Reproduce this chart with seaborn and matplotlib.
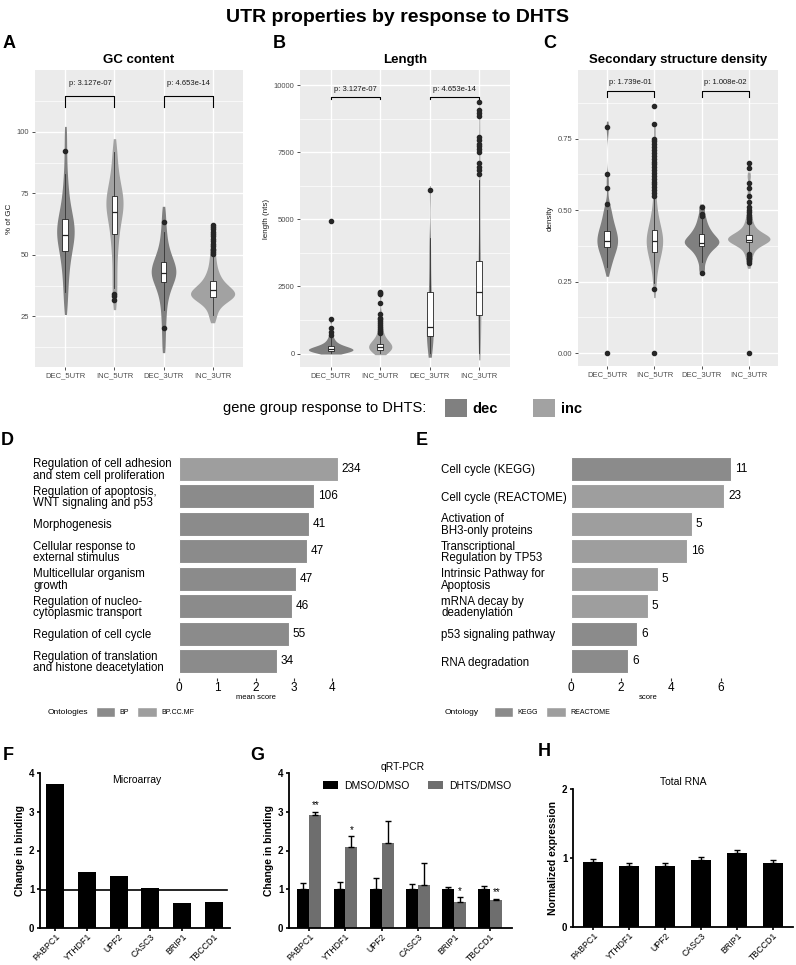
import numpy as np
import pandas as pd
import matplotlib
matplotlib.use("Agg")
import matplotlib.pyplot as plt
import seaborn as sns
from matplotlib.patches import Patch

plt.rcParams["font.family"] = ["Liberation Sans", "DejaVu Sans"]

# ---------------- data: UTR properties (A-C) ----------------
utr_groups = ["DEC_5UTR", "INC_5UTR", "DEC_3UTR", "INC_3UTR"]
utr_response = ["dec", "inc", "dec", "inc"]
response_colors = {"dec": "#808080", "inc": "#a2a2a2"}

# values (shape of each distribution)
gc_dec5 = [28, 33, 37, 40.5, 43.5, 46, 48, 50, 51.5, 53, 54.5, 55.5, 56.5, 57.5, 58.5, 59.5, 60.5, 61.5, 62.5,
           63.5, 64.5, 66, 67.5, 69, 71, 73.5, 76.5, 80, 85, 92, 100]
gc_inc5 = [30, 34, 38, 42, 46, 50, 53, 55.5, 58, 60, 62, 63.5, 65, 66.5, 67.5, 68.5, 69.5, 70.5, 71.5, 72.5,
           73.5, 74.5, 75.5, 77, 78.5, 80, 82, 84.5, 87.5, 91, 95]
gc_dec3 = [12, 18, 23, 27, 30.5, 33, 35, 36.5, 38, 39, 40, 40.8, 41.5, 42.2, 42.9, 43.6, 44.3, 45, 45.8, 46.7,
           47.7, 48.8, 50, 51.5, 53.5, 56, 59, 63, 68]
gc_inc3 = [23.5, 26, 28, 29.5, 30.5, 31.2, 31.8, 32.3, 32.7, 33.1, 33.4, 33.7, 34, 34.3, 34.6, 35, 35.4, 35.8,
           36.3, 36.8, 37.4, 38, 38.8, 39.7, 40.8, 42, 43.5, 45.5, 48, 51, 55, 60]

len_dec5 = [10, 30, 50, 70, 85, 100, 115, 130, 145, 160, 170, 180, 195, 215, 240, 270, 300, 340, 400, 480, 600, 800, 1300]
len_inc5 = [10, 40, 80, 120, 150, 180, 210, 240, 260, 285, 310, 340, 370, 410, 460, 520, 600, 700, 850, 1000, 1200, 1500, 2250]
len_dec3 = [20, 150, 300, 450, 600, 700, 800, 900, 1000, 1100, 1250, 1450, 1700, 2000, 2300, 2700, 3200, 3800, 4300, 6100]
len_inc3 = [20, 300, 700, 1000, 1300, 1500, 1800, 2100, 2300, 2500, 2800, 3100, 3400, 3800, 4300, 5000, 5800, 6500, 7200, 8000, 9000]

ss_dec5 = [0.29, 0.31, 0.325, 0.338, 0.348, 0.357, 0.365, 0.372, 0.378, 0.384, 0.39, 0.396, 0.402, 0.408, 0.415,
           0.422, 0.43, 0.438, 0.447, 0.457, 0.47, 0.485, 0.5, 0.52, 0.6, 0.79]
ss_inc5 = [0.22, 0.26, 0.29, 0.31, 0.325, 0.337, 0.347, 0.356, 0.364, 0.372, 0.38, 0.387, 0.393, 0.40, 0.407,
           0.414, 0.422, 0.43, 0.44, 0.45, 0.465, 0.48, 0.50, 0.53, 0.57, 0.63, 0.70, 0.78]
ss_dec3 = [0.29, 0.32, 0.34, 0.352, 0.362, 0.37, 0.376, 0.381, 0.385, 0.389, 0.393, 0.398, 0.403, 0.409, 0.416,
           0.424, 0.433, 0.445, 0.46, 0.48, 0.51]
ss_inc3 = [0.31, 0.335, 0.352, 0.366, 0.376, 0.383, 0.388, 0.391, 0.393, 0.395, 0.397, 0.398, 0.40, 0.402, 0.404,
           0.406, 0.409, 0.413, 0.418, 0.425, 0.433, 0.445, 0.46, 0.48, 0.51, 0.56, 0.62]

# box summaries
gc_q1 = [51.6, 58.5, 38.8, 32.7]
gc_med = [58.1, 67.5, 42.5, 35.6]
gc_q3 = [64.6, 74.0, 47.0, 39.2]
gc_lo = [35.0, 36.5, 27.5, 25.5]
gc_hi = [83.0, 92.0, 59.5, 49.0]
gc_out = [[92.3], [34.0, 33.4, 31.6], [63.3, 20.2],
          [50.3, 51.0, 51.8, 52.5, 53.5, 54.5, 55.5, 56.5, 57.5, 58.5, 59.5, 60.5, 61.5, 62.0]]

len_q1 = [90, 150, 640, 1420]
len_med = [170, 260, 1000, 2310]
len_q3 = [300, 370, 2310, 3430]
len_lo = [5, 5, 10, 10]
len_hi = [610, 690, 4300, 6450]
len_out = [[700, 820, 970, 1300, 4950],
           [780, 850, 920, 990, 1060, 1130, 1200, 1270, 1340, 1490, 1870, 2200, 2250, 2300],
           [6100],
           [6680, 6830, 6950, 7080, 7510, 7600, 7720, 7820, 7950, 8070, 8840, 8970, 9070, 9350]]

ss_q1 = [0.371, 0.353, 0.374, 0.387]
ss_med = [0.392, 0.392, 0.385, 0.397]
ss_q3 = [0.427, 0.430, 0.416, 0.412]
ss_lo = [0.30, 0.245, 0.32, 0.355]
ss_hi = [0.50, 0.545, 0.47, 0.45]
ss_out = [[0.0, 0.521, 0.577, 0.626, 0.79],
          [0.0, 0.224, 0.55, 0.56, 0.57, 0.58, 0.59, 0.60, 0.61, 0.62, 0.63, 0.64, 0.65, 0.66, 0.67, 0.68,
           0.69, 0.70, 0.71, 0.72, 0.73, 0.74, 0.75, 0.80, 0.864],
          [0.28, 0.479, 0.486, 0.511],
          [0.0, 0.315, 0.322, 0.328, 0.334, 0.340, 0.346, 0.46, 0.468, 0.476, 0.484, 0.492, 0.50, 0.51,
           0.528, 0.549, 0.577, 0.594, 0.647, 0.664]]

p_gc = ["p: 3.127e-07", "p: 4.653e-14"]
p_len = ["p: 3.127e-07", "p: 4.653e-14"]
p_ss = ["p: 1.739e-01", "p: 1.008e-02"]

# ---------------- data: enrichment (D, E) ----------------
go_terms = ["Regulation of cell adhesion\nand stem cell proliferation",
            "Regulation of apoptosis,\nWNT signaling and p53",
            "Morphogenesis",
            "Cellular response to\nexternal stimulus",
            "Multicellular organism\ngrowth",
            "Regulation of nucleo-\ncytoplasmic transport",
            "Regulation of cell cycle",
            "Regulation of translation\nand histone deacetylation"]
go_score = [4.15, 3.53, 3.39, 3.34, 3.05, 2.95, 2.87, 2.56]
go_count = [234, 106, 41, 47, 47, 46, 55, 34]
go_ontology = ["BP.CC.MF", "BP", "BP", "BP", "BP", "BP", "BP", "BP"]

path_terms = ["Cell cycle (KEGG)", "Cell cycle (REACTOME)", "Activation of\nBH3-only proteins",
              "Transcriptional\nRegulation by TP53", "Intrinsic Pathway for\nApoptosis",
              "mRNA decay by\ndeadenylation", "p53 signaling pathway", "RNA degradation"]
path_score = [6.4, 6.12, 4.84, 4.64, 3.48, 3.08, 2.64, 2.28]
path_count = [11, 23, 5, 16, 5, 5, 6, 6]
path_source = ["KEGG", "REACTOME", "REACTOME", "REACTOME", "REACTOME", "REACTOME", "KEGG", "KEGG"]

# ---------------- data: binding (F, G, H) ----------------
genes = ["PABPC1", "YTHDF1", "UPF2", "CASC3", "BRIP1", "TBCCD1"]
microarray = [3.72, 1.44, 1.33, 1.02, 0.64, 0.67]
dmso = [1.0, 1.0, 1.0, 1.0, 1.0, 1.0]
dmso_err = [0.15, 0.2, 0.28, 0.13, 0.07, 0.08]
dhts = [2.92, 2.1, 2.2, 1.1, 0.67, 0.73]
dhts_err = [0.08, 0.27, 0.55, 0.57, 0.12, 0.03]
stars = ["**", "*", "", "", "*", "**"]
total_rna = [0.94, 0.88, 0.88, 0.97, 1.07, 0.93]
total_err = [0.05, 0.05, 0.05, 0.04, 0.04, 0.04]

W, H = 796, 965


def box(l, t, r, b):
    """pixel box -> figure fraction rect"""
    return [l / W, 1 - b / H, (r - l) / W, (b - t) / H]


fig = plt.figure(figsize=(W / 100, H / 100), dpi=100)
fig.text(0.5, 1 - 18 / H, "UTR properties by response to DHTS", ha="center", va="center",
         fontsize=14, fontweight="bold")

for letter, x, y in [("A", 3, 44), ("B", 273, 44), ("C", 543, 44), ("D", 1, 440),
                     ("E", 416, 440), ("F", 3, 756), ("G", 250, 756), ("H", 538, 752)]:
    fig.text(x / W, 1 - y / H, letter, fontsize=13, fontweight="bold", ha="left", va="center")


def utr_panel(rect, samples, q1, med, q3, lo, hi, fliers, title, ylabel, ylim, yticks, yticklabels,
              minor, pvals, bracket, cut, bw):
    ax = fig.add_axes(box(*rect))
    ax.set_facecolor("#ebebeb")
    df = pd.DataFrame({"group": np.repeat(utr_groups, [len(s) for s in samples]),
                       "value": np.concatenate(samples)})
    pal = {g: response_colors[r] for g, r in zip(utr_groups, utr_response)}
    sns.violinplot(data=df, x="group", y="value", hue="group", order=utr_groups, palette=pal,
                   inner=None, linewidth=0, width=0.9, density_norm="area", common_norm=True,
                   cut=cut, bw_adjust=bw, saturation=1, legend=False, ax=ax)
    stats = [dict(q1=a, med=b, q3=c, whislo=d, whishi=e, fliers=f)
             for a, b, c, d, e, f in zip(q1, med, q3, lo, hi, fliers)]
    ax.bxp(stats, positions=range(4), widths=0.12, patch_artist=True, manage_ticks=False, showcaps=False,
           zorder=3,
           boxprops=dict(facecolor="white", edgecolor="#222222", linewidth=0.6),
           medianprops=dict(color="#222222", linewidth=0.9),
           whiskerprops=dict(color="#333333", linewidth=0.6),
           flierprops=dict(marker="o", markerfacecolor="#262626", markeredgecolor="#262626", markersize=3))
    top, end, txt = bracket
    for (x0, x1), p in zip([(0, 1), (2, 3)], pvals):
        ax.plot([x0, x0, x1, x1], [end, top, top, end], color="black", lw=0.8, zorder=4)
        ax.text((x0 + x1) / 2, txt, p, ha="center", va="center", fontsize=5.5, color="#1a1a1a")
    ax.set_xlim(-0.62, 3.62)
    ax.set_ylim(*ylim)
    ax.set_xticks(range(4), utr_groups)
    ax.set_yticks(yticks, yticklabels)
    ax.set_yticks(minor, minor=True)
    ax.grid(which="major", color="white", lw=1.0)
    ax.grid(which="minor", axis="y", color="white", lw=0.5)
    ax.set_axisbelow(True)
    for s in ax.spines.values():
        s.set_visible(False)
    ax.tick_params(length=2.5, width=0.6, color="#333333", labelsize=5.5, labelcolor="#4d4d4d", pad=1.5)
    ax.tick_params(which="minor", length=0)
    ax.set_xlabel("")
    ax.set_ylabel(ylabel, fontsize=5.8, color="#1a1a1a", labelpad=3)
    ax.set_title(title, fontsize=9.5, fontweight="bold", pad=5)
    return ax


utr_panel((35, 70, 243, 367), [gc_dec5, gc_inc5, gc_dec3, gc_inc3], gc_q1, gc_med, gc_q3, gc_lo, gc_hi, gc_out,
          "GC content", "% of GC", (4.4, 125.2), [25, 50, 75, 100], ["25", "50", "75", "100"],
          [12.5, 37.5, 62.5, 87.5, 112.5], p_gc, (114.6, 110.2, 119.6), 0.5, 0.55)
utr_panel((300, 70, 510, 367), [len_dec5, len_inc5, len_dec3, len_inc3], len_q1, len_med, len_q3, len_lo,
          len_hi, len_out, "Length", "length (nts)", (-500, 10560), [0, 2500, 5000, 7500, 10000],
          ["0", "2500", "5000", "7500", "10000"], [1250, 3750, 6250, 8750], p_len, (9560, 9470, 9850), 0.3, 0.6)
utr_panel((578, 70, 778, 366), [ss_dec5, ss_inc5, ss_dec3, ss_inc3], ss_q1, ss_med, ss_q3, ss_lo, ss_hi, ss_out,
          "Secondary structure density", "density", (-0.045, 0.99), [0, 0.25, 0.5, 0.75],
          ["0.00", "0.25", "0.50", "0.75"], [0.125, 0.375, 0.625, 0.875], p_ss, (0.918, 0.897, 0.946), 0.8, 0.5)

# shared legend for the violins
fig.text(223 / W, 1 - 408 / H, "gene group response to DHTS:", fontsize=10.5, ha="left", va="center")
fig.legend([Patch(facecolor=response_colors["dec"]), Patch(facecolor=response_colors["inc"])], ["dec", "inc"],
           loc="center left", bbox_to_anchor=(445 / W, 1 - 408 / H), ncol=2, frameon=False,
           prop={"size": 10.5, "weight": "bold"}, handlelength=1.5, handleheight=1.5, handletextpad=0.4,
           columnspacing=2.4, borderpad=0, borderaxespad=0)

# ---------------- D and E ----------------
bar_dark, bar_light = "#8b8b8b", "#9e9e9e"


def enrich_panel(rect, terms, scores, counts, kinds, palette, xmax, xticks, xlabel, label_x, xlabel_pos,
                 legend_title, legend_title_x, legend_x):
    ax = fig.add_axes(box(*rect))
    sns.barplot(x=scores, y=terms, hue=kinds, palette=palette, dodge=False, orient="h", width=0.88,
                edgecolor="white", linewidth=0.8, saturation=1, legend=False, ax=ax)
    for i, (s, c) in enumerate(zip(scores, counts)):
        ax.text(s + xmax * 0.022, i, str(c), ha="left", va="center", fontsize=8.5)
    ax.set_xlim(0, xmax)
    ax.set_ylim(7.6, -0.6)
    ax.set_xticks(xticks, [str(t) for t in xticks], fontsize=8.5)
    pad = (rect[0] - label_x) * 0.72
    ax.set_yticks(range(len(terms)), terms, ha="left", fontsize=8.3, linespacing=0.95)
    ax.tick_params(axis="y", length=0, pad=pad)
    ax.tick_params(axis="x", length=2, width=0.8, color="#333333", pad=1.5)
    for s in ax.spines.values():
        s.set_visible(False)
    ax.set_facecolor("none")
    ax.set_xlabel(xlabel, fontsize=5.5, labelpad=0.5)
    ax.xaxis.set_label_coords((xlabel_pos - rect[0]) / (rect[2] - rect[0]), -0.075)
    ax.set_ylabel("")
    fig.text(legend_title_x / W, 1 - 712 / H, legend_title, fontsize=6, ha="left", va="center")
    names = list(palette.keys())
    fig.legend([Patch(facecolor=palette[n], edgecolor="white") for n in names], names,
               loc="center left", bbox_to_anchor=(legend_x / W, 1 - 712 / H), ncol=2, frameon=False,
               fontsize=5, handlelength=2.8, handleheight=2.0, handletextpad=0.6, columnspacing=1.2,
               borderpad=0, borderaxespad=0)
    return ax


enrich_panel((179, 452.5, 347, 677.5), go_terms, go_score, go_count, go_ontology,
             {"BP": bar_dark, "BP.CC.MF": bar_light}, 4.39, [0, 1, 2, 3, 4], "mean score", 33, 256,
             "Ontologies", 48, 96)
enrich_panel((571, 452.5, 751, 677.5), path_terms, path_score, path_count, path_source,
             {"KEGG": bar_dark, "REACTOME": bar_light}, 7.2, [0, 2, 4, 6], "score", 441, 648,
             "Ontology", 445, 494)


# ---------------- F, G, H ----------------
def prism_axes(ax, ylim, yticks, ylabel):
    ax.set_ylim(*ylim)
    ax.set_yticks(yticks, [str(t) for t in yticks], fontweight="bold", fontsize=7)
    ax.set_xticks(range(len(genes)), genes, rotation=45, ha="right", rotation_mode="anchor", fontsize=6.3)
    for side in ["top", "right"]:
        ax.spines[side].set_visible(False)
    for side in ["left", "bottom"]:
        ax.spines[side].set_linewidth(1.3)
        ax.spines[side].set_color("black")
    ax.tick_params(direction="out", length=2.5, width=1.2, pad=1.5)
    ax.tick_params(axis="x", pad=0.3)
    ax.set_facecolor("none")
    ax.set_xlabel("")
    ax.set_ylabel(ylabel, fontsize=7.5, fontweight="bold", labelpad=3)


axf = fig.add_axes(box(40, 773, 230, 928))
sns.barplot(x=genes, y=microarray, color="black", width=0.57, saturation=1, ax=axf)
axf.axhline(0.97, xmin=0, xmax=0.985, color="black", lw=1.2)
axf.set_xlim(-0.48, 5.52)
prism_axes(axf, (0, 4), [0, 1, 2, 3, 4], "Change in binding")
axf.text(0.51, 0.955, "Microarray", transform=axf.transAxes, ha="center", va="center", fontsize=7.5)

axg = fig.add_axes(box(289, 773, 512, 928))
g_df = pd.DataFrame({"gene": genes * 2, "value": dmso + dhts,
                     "condition": ["DMSO/DMSO"] * 6 + ["DHTS/DMSO"] * 6})
sns.barplot(data=g_df, x="gene", y="value", hue="condition",
            palette={"DMSO/DMSO": "black", "DHTS/DMSO": "#6e6e6e"}, width=0.66, errorbar=None,
            saturation=1, ax=axg)
for cont, errs, vals in zip(axg.containers, [dmso_err, dhts_err], [dmso, dhts]):
    xs = [p.get_x() + p.get_width() / 2 for p in cont]
    axg.errorbar(xs, vals, yerr=[np.zeros(len(errs)), errs], fmt="none", ecolor="black",
                 elinewidth=1, capsize=2.5, capthick=1)
    if vals is dhts:
        for x, v, e, s in zip(xs, vals, errs, stars):
            axg.text(x, v + e + 0.04, s, ha="center", va="bottom", fontsize=7)
axg.set_xlim(-0.56, 5.6)
prism_axes(axg, (0, 4), [0, 1, 2, 3, 4], "Change in binding")
axg.text(0.51, 1.04, "qRT-PCR", transform=axg.transAxes, ha="center", va="center", fontsize=7.5)
axg.legend(loc="center left", bbox_to_anchor=(323 / W, 1 - 786 / H), bbox_transform=fig.transFigure,
           ncol=2, frameon=False, fontsize=7.5, handlelength=1.4, handleheight=0.8, handletextpad=0.6,
           columnspacing=1.8, borderpad=0, borderaxespad=0)

axh = fig.add_axes(box(573, 789, 793, 927))
sns.barplot(x=genes, y=total_rna, color="black", width=0.56, saturation=1, ax=axh)
axh.errorbar(range(len(genes)), total_rna, yerr=[np.zeros(len(genes)), total_err], fmt="none",
             ecolor="black", elinewidth=1, capsize=2.5, capthick=1)
axh.set_xlim(-0.56, 5.56)
prism_axes(axh, (0, 2), [0, 1, 2], "Normalized expression")
axh.text(0.5, 1.05, "Total RNA", transform=axh.transAxes, ha="center", va="center", fontsize=7.5)

fig.savefig("out.png", dpi=100)
